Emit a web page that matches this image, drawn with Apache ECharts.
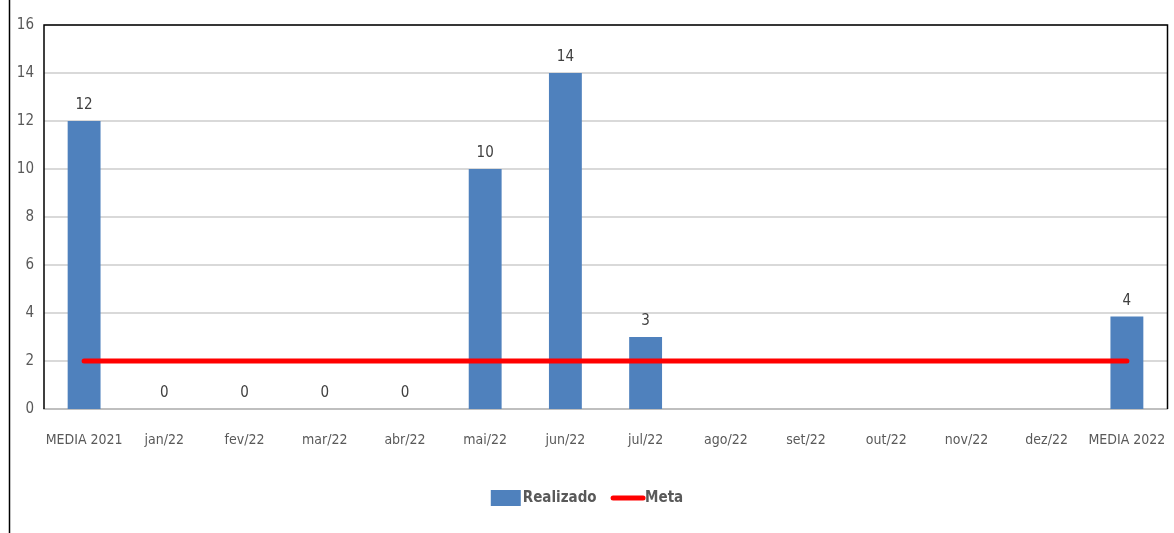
<!DOCTYPE html>
<html><head><meta charset="utf-8">
<script src="https://cdn.jsdelivr.net/npm/echarts@6/dist/echarts.min.js"></script>
<style>html,body{margin:0;padding:0;background:#fff}#c{width:1174px;height:533px}</style>
</head><body><div id="c"></div>
<script>
const categories = ['MEDIA 2021','jan/22','fev/22','mar/22','abr/22','mai/22','jun/22','jul/22','ago/22','set/22','out/22','nov/22','dez/22','MEDIA 2022'];
const realizado = [12, 0, 0, 0, 0, 10, 14, 3, null, null, null, null, null, 3.85];
const meta = [2, 2, 2, 2, 2, 2, 2, 2, 2, 2, 2, 2, 2, 2];
const yTicks = [0, 2, 4, 6, 8, 10, 12, 14, 16];

const FONT = '"Liberation Sans Narrow", "DejaVu Sans Condensed", sans-serif';
const chart = echarts.init(document.getElementById('c'), null, {renderer:'canvas'});
chart.setOption({
  animation: false,
  graphic: [
    {type:'line', shape:{x1:9.5,y1:0,x2:9.5,y2:533}, style:{stroke:'#000', lineWidth:1.5}, z:10},
    {type:'polyline', shape:{points:[[44,409],[44,25],[1167.5,25],[1167.5,409]]}, style:{stroke:'#000', lineWidth:1.5, fill:null}, z:10}
  ],
  grid: {left:44, right:7, top:25, bottom:124, show:false, containLabel:false},
  legend: {
    bottom: 22, left:'center', itemGap: 14, itemWidth: 30, itemHeight: 16,
    textStyle: {fontFamily: FONT, fontSize: 15, fontWeight: 'bold', color: '#595959', padding:[0,0,0,-3]},
    data: [{name:'Realizado', icon:'rect'}, {name:'Meta', itemStyle:{opacity:0}, lineStyle:{width:5, cap:'round', color:'#ff0000'}}]
  },
  xAxis: {
    type: 'category', data: categories,
    axisLine: {show:true, lineStyle:{color:'#bfbfbf', width:2}},
    axisTick: {show:false},
    axisLabel: {fontFamily: FONT, fontSize: 14, color:'#595959', margin: 24, interval:0}
  },
  yAxis: {
    type: 'value', min: yTicks[0], max: yTicks[yTicks.length-1], interval: 2,
    axisLine: {show:false},
    axisTick: {show:false},
    splitLine: {lineStyle:{color:'#d9d9d9', width:2}},
    axisLabel: {fontFamily: FONT, fontSize: 15, color:'#595959', margin: 10}
  },
  series: [
    {
      name:'Realizado', type:'bar', data: realizado, barWidth: '41%',
      itemStyle: {color:'#4f81bd'},
      label: {show:true, position:'top', distance: 8, fontFamily: FONT, fontSize: 15, color:'#404040',
        formatter: p => p.value == null ? '' : String(Math.round(p.value))}
    },
    {
      name:'Meta', type:'line', data: meta, showSymbol:false, symbol:'none',
      lineStyle: {color:'#ff0000', width:5, cap:'round'}, itemStyle:{color:'#ff0000'}, z: 5
    }
  ]
});
</script></body></html>
